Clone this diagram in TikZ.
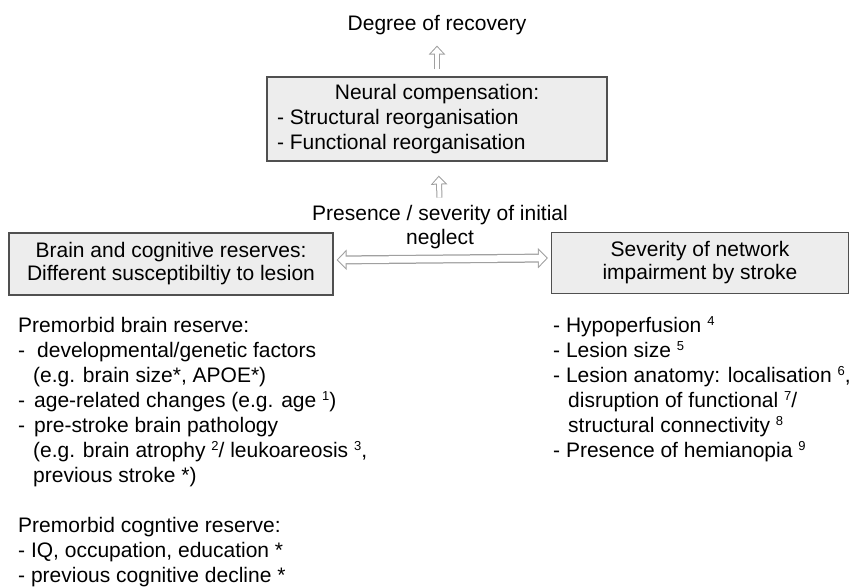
\documentclass[tikz,border=0pt]{standalone}
\usepackage{fontspec}
\setmainfont{Liberation Sans}
\usepackage{tikz}
\usetikzlibrary{arrows.meta}

\definecolor{boxfill}{HTML}{EDEDED}
\definecolor{boxline}{HTML}{505050}
\definecolor{arrowgray}{HTML}{A0A0A0}
\newcommand{\supnum}[1]{\raisebox{7pt}{\fontsize{13}{13}\selectfont #1}}

\begin{document}
\begin{tikzpicture}[x=1pt,y=-1pt,
  every node/.style={inner sep=0pt, font=\fontsize{21}{25}\selectfont},
  box/.style={draw=boxline, line width=1.2pt, fill=boxfill, align=center},
  item/.style={anchor=base west},
  hollow/.style={draw=white, line width=4pt, -{Triangle[length=6.5pt,width=11.6pt,sep=1.5pt]},
    preaction={draw=arrowgray, line width=6pt, -{Triangle[length=9pt,width=16pt]}}},
  hollowwide/.style={draw=white, line width=6.5pt,
    {Triangle[length=7.6pt,width=15pt,sep=1.4pt]}-{Triangle[length=7.6pt,width=15pt,sep=1.4pt]},
    preaction={draw=arrowgray, line width=9pt, {Triangle[length=10pt,width=20pt]}-{Triangle[length=10pt,width=20pt]}}}]
\useasboundingbox (0,0) rectangle (850,587);

% top of the picture
\node[anchor=base] (deg) at (437,30) {Degree of recovery};

\node[box, align=left, inner xsep=10pt, minimum width=340pt, minimum height=84pt] (comp) at (437,119)
  {\makebox[320pt]{Neural compensation:}\\- Structural reorganisation\\- Functional reorganisation};
\path[hollow, shorten <=7pt, shorten >=11pt] (comp) -- (deg);

\node[anchor=base] (prs) at (440,220) {Presence / severity of initial};
\node[anchor=base] (ngl) at (440,244) {neglect};
\path[hollow, shorten <=7pt, shorten >=14pt] (prs) -- (comp);

% the two boxes
\node[box, font=\fontsize{21}{23}\selectfont, minimum width=324pt, minimum height=62pt] (reserve) at (171,264)
  {Brain and cognitive reserves:\\Different susceptibiltiy to lesion};
\node[box, font=\fontsize{21}{23}\selectfont, minimum width=297pt, minimum height=61pt] (network) at (700,263)
  {Severity of network\\impairment by stroke};
\path[hollowwide, shorten <=3pt, shorten >=3pt] ([yshift=4pt]reserve.east) -- ([yshift=5pt]network.west);

% left list
\node[item] (l1) at (18,332) {Premorbid brain reserve:};
\node[item] (l2) at (18,357) {\makebox[19pt][l]{-}developmental/genetic factors};
\node[item] (l3) at (33,382) {(e.g. brain size*, APOE*)};
\node[item] (l4) at (18,407) {\makebox[16pt][l]{-}age-related changes (e.g. age \supnum{1})};
\node[item] (l5) at (18,432) {\makebox[16pt][l]{-}pre-stroke brain pathology};
\node[item] (l6) at (33,457) {(e.g. brain atrophy \supnum{2}/ leukoareosis \supnum{3},};
\node[item] (l7) at (33,482) {previous stroke *)};

\node[item] (l8) at (18,532) {Premorbid cogntive reserve:};
\node[item] (l9) at (18,557) {- IQ, occupation, education *};
\node[item] (l10) at (18,582) {- previous cognitive decline *};

% right list
\node[item] (r1) at (553,332) {- Hypoperfusion \supnum{4}};
\node[item] (r2) at (553,357) {- Lesion size \supnum{5}};
\node[item] (r3) at (553,382) {- Lesion anatomy: localisation \supnum{6},};
\node[item] (r4) at (568,407) {disruption of functional \supnum{7}/};
\node[item] (r5) at (568,432) {structural connectivity \supnum{8}};
\node[item] (r6) at (553,457) {- Presence of hemianopia \supnum{9}};
\end{tikzpicture}
\end{document}
